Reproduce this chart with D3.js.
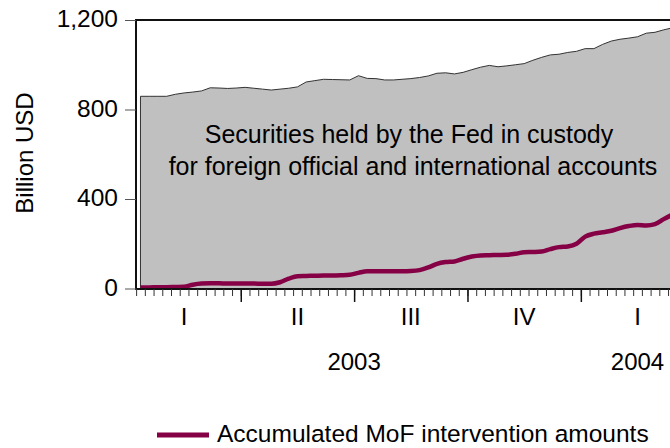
<!DOCTYPE html>
<html>
<head>
<meta charset="utf-8">
<script src="https://cdn.jsdelivr.net/npm/d3@7"></script>
<style>
  body { margin: 0; background: #fff; }
  text { font-family: "Liberation Sans", Arial, sans-serif; fill: #000; }
</style>
</head>
<body>
<script>
// weekly observations, position = week number in a 13-week quarter calendar (week 0 = start of 2003)
var weeks = d3.range(1, 63);

// securities held by the Fed in custody (billion USD)
var custody = [859, 859, 859, 859, 868, 874, 878, 883, 897, 896,
               894, 896, 899, 895, 891, 887, 891, 895, 901, 923,
               929, 935, 934, 933, 932, 951, 939, 938, 932, 932,
               935, 938, 943, 950, 962, 964, 959, 966, 978, 989,
               997, 991, 995, 1000, 1005, 1020, 1033, 1044, 1047, 1055,
               1060, 1072, 1072, 1091, 1106, 1114, 1119, 1125, 1141, 1145,
               1156, 1165];

// accumulated MoF intervention amounts (billion USD)
var mof = [5, 5, 6, 6, 7, 8, 17, 22, 23, 23,
           22, 22, 22, 22, 21, 21, 28, 44, 55, 56,
           57, 58, 58, 59, 61, 70, 77, 77, 77, 77,
           77, 78, 82, 94, 110, 118, 121, 133, 143, 148,
           149, 150, 151, 155, 162, 163, 165, 176, 185, 188,
           200, 232, 245, 251, 258, 270, 279, 284, 282, 288,
           310, 330];

var yTicks = [0, 400, 800, 1200];
var quarterLabels = ["I", "II", "III", "IV", "I"];
var quarterStarts = [0, 13, 26, 39, 52];
var years = ["2003", "2004"];
var yearCentres = [26, 58.5];

var W = 670, H = 448;
var svg = d3.select("body").append("svg")
  .attr("width", W)
  .attr("height", H);

var x = d3.scaleLinear().domain([0, 65]).range([127.4, 694.2]);
var y = d3.scaleLinear().domain([0, 1200]).range([288.5, 20]);
var left = 136, right = 700;

var rows = weeks.map(function(w, i) { return {w: w, c: custody[i], m: mof[i]}; });

// grey area
var area = d3.area()
  .x(function(d) { return x(d.w + 0.5); })
  .y0(y(0))
  .y1(function(d) { return y(d.c); });

svg.append("path")
  .datum(rows)
  .attr("d", area)
  .attr("fill", "#c0c0c0")
  .attr("stroke", "#333")
  .attr("stroke-width", 1);

// MoF line
var line = d3.line()
  .x(function(d) { return x(d.w + 0.5); })
  .y(function(d) { return y(d.m); })
  .curve(d3.curveMonotoneX);

svg.append("path")
  .datum(rows)
  .attr("d", line)
  .attr("fill", "none")
  .attr("stroke", "#850045")
  .attr("stroke-width", 4.5);

// frame: top, left, bottom
svg.append("line").attr("x1", left).attr("x2", right).attr("y1", 20).attr("y2", 20)
  .attr("stroke", "#111").attr("stroke-width", 2);
svg.append("line").attr("x1", left).attr("x2", left).attr("y1", 19).attr("y2", 290)
  .attr("stroke", "#111").attr("stroke-width", 2);
svg.append("line").attr("x1", left - 1).attr("x2", right).attr("y1", 289).attr("y2", 289)
  .attr("stroke", "#111").attr("stroke-width", 2);

// y axis
var yAxis = svg.append("g")
  .attr("transform", "translate(" + left + ",0)")
  .call(d3.axisLeft(y).tickValues(yTicks).tickSize(11).tickPadding(7)
    .tickFormat(d3.format(",")));
yAxis.select(".domain").remove();
yAxis.selectAll("line").attr("stroke", "#555");
yAxis.selectAll("text")
  .attr("font-size", 24.5)
  .attr("font-family", "Liberation Sans, Arial, sans-serif")
  .attr("dy", "0.27em");

svg.append("text")
  .attr("transform", "translate(33,153) rotate(-90)")
  .attr("text-anchor", "middle")
  .attr("font-size", 24)
  .text("Billion USD");

// x axis: weekly minor ticks, quarterly major ticks
var minor = svg.append("g")
  .attr("transform", "translate(0,289)")
  .call(d3.axisBottom(x).tickValues(d3.range(1, 66)).tickSize(7).tickFormat(""));
minor.select(".domain").remove();
minor.selectAll("line").attr("stroke", "#333");

var major = svg.append("g")
  .attr("transform", "translate(0,289)")
  .call(d3.axisBottom(x).tickValues(quarterStarts.slice(1).concat([65])).tickSize(13).tickFormat(""));
major.select(".domain").remove();
major.selectAll("line").attr("stroke", "#111").attr("stroke-width", 1.5);

svg.selectAll(".qlab")
  .data(quarterLabels)
  .enter().append("text")
  .attr("class", "qlab")
  .attr("x", function(d, i) { return x(quarterStarts[i] + 6.5); })
  .attr("y", 325)
  .attr("text-anchor", "middle")
  .attr("font-size", 24)
  .text(function(d) { return d; });

svg.selectAll(".ylab")
  .data(years)
  .enter().append("text")
  .attr("class", "ylab")
  .attr("x", function(d, i) { return x(yearCentres[i]); })
  .attr("y", 370)
  .attr("text-anchor", "middle")
  .attr("font-size", 24)
  .text(function(d) { return d; });

// annotation
var note = svg.append("text")
  .attr("text-anchor", "middle")
  .attr("font-size", 25);
note.append("tspan").attr("x", 409).attr("y", 143).text("Securities held by the Fed in custody");
note.append("tspan").attr("x", 413).attr("y", 175).text("for foreign official and international accounts");

// legend
svg.append("line")
  .attr("x1", 157).attr("x2", 209).attr("y1", 435).attr("y2", 435)
  .attr("stroke", "#850045").attr("stroke-width", 5);
svg.append("text")
  .attr("x", 217).attr("y", 442)
  .attr("font-size", 24.5)
  .text("Accumulated MoF intervention amounts");
</script>
</body>
</html>
